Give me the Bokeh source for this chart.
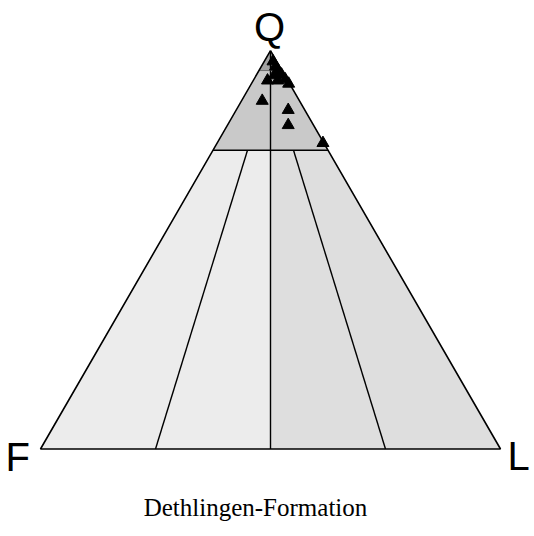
import math
from bokeh.plotting import figure
from bokeh.models import Range1d, Label
from bokeh.embed import file_html
from bokeh.resources import INLINE

# Framework-grain composition (percent) of the Dethlingen-Formation samples
q_pct = [97.3, 96.0, 95.0, 93.8, 94.0, 92.8, 91.7, 92.5, 92.5, 87.4, 85.1, 81.3, 76.8]
f_pct = [0.8, 0.9, 0.8, 2.3, 0.6, 0.4, 0.2, 4.4, 2.2, 8.1, 3.6, 5.5, 0.2]
l_pct = [1.9, 3.1, 4.2, 3.9, 5.4, 6.8, 8.1, 3.1, 5.3, 4.5, 11.3, 13.2, 23.0]

apex_labels = ["Q", "F", "L"]
title = "Dethlingen-Formation"

# Classification field boundaries (Q, F, L)
q_upper = 95
q_lower = 75
divider_left = [(0, 75, 25), (75, 17.5, 7.5)]
divider_right = [(0, 25, 75), (75, 7.5, 17.5)]

SQ3 = math.sqrt(3) / 2


def tern(q, f, l):
    s = q + f + l
    q, l = q / s, l / s
    return l + q / 2, q * SQ3


def poly(points):
    xy = [tern(*p) for p in points]
    return [a for a, _ in xy], [b for _, b in xy]


# pixel layout helpers
SCALE = 460.0
X0, Y0 = 40.0, 448.5


def px(x):
    return (x - X0) / SCALE


def py(y):
    return (Y0 - y) / SCALE


W, H = 534, 536
p = figure(width=W, height=H, output_backend="svg", toolbar_location=None,
           x_range=Range1d(px(0), px(W)), y_range=Range1d(py(H), py(0)),
           min_border=0, background_fill_color="white")
p.axis.visible = False
p.grid.visible = False
p.outline_line_color = None

# Filled fields
fields = [
    ([(100, 0, 0), (q_upper, 100 - q_upper, 0), (q_upper, 0, 100 - q_upper)], "#a3a3a3"),
    ([(q_upper, 100 - q_upper, 0), (q_lower, 100 - q_lower, 0),
      (q_lower, 0, 100 - q_lower), (q_upper, 0, 100 - q_upper)], "#c9c9c9"),
    ([(q_lower, 100 - q_lower, 0), (q_lower, (100 - q_lower) / 2, (100 - q_lower) / 2),
      (0, 50, 50), (0, 100, 0)], "#ececec"),
    ([(q_lower, (100 - q_lower) / 2, (100 - q_lower) / 2), (q_lower, 0, 100 - q_lower),
      (0, 0, 100), (0, 50, 50)], "#dedede"),
]
xs, ys, cols = [], [], []
for pts, c in fields:
    a, b = poly(pts)
    xs.append(a)
    ys.append(b)
    cols.append(c)
p.patches(xs, ys, fill_color=cols, line_color=None)

# Field boundaries
segments = [
    [(q_lower, 100 - q_lower, 0), (q_lower, 0, 100 - q_lower)],
    [(100, 0, 0), (0, 50, 50)],
    divider_left,
    divider_right,
]
for seg in segments:
    a, b = poly(seg)
    p.line(a, b, line_color="black", line_width=1.4)

a, b = poly([(q_upper, 100 - q_upper, 0), (q_upper, 0, 100 - q_upper)])
p.line(a, b, line_color="#555555", line_width=0.8)

# Triangle outline
a, b = poly([(100, 0, 0), (0, 100, 0), (0, 0, 100), (100, 0, 0)])
p.line(a, b, line_color="black", line_width=1.6)

# Samples
pts = [tern(q, f, l) for q, f, l in zip(q_pct, f_pct, l_pct)]
p.scatter([a for a, _ in pts], [b for _, b in pts], marker="triangle",
          size=12, fill_color="black", line_color="black")

# Apex and title labels
p.add_layout(Label(x=px(269), y=py(26), text=apex_labels[0], text_font="Liberation Sans",
                   text_font_size="40px", text_align="center", text_baseline="alphabetic",
                   text_color="black"))
p.add_layout(Label(x=px(5), y=py(456), text=apex_labels[1], text_font="Liberation Sans",
                   text_font_size="40px", text_align="left", text_baseline="alphabetic",
                   text_color="black"))
p.add_layout(Label(x=px(507), y=py(455), text=apex_labels[2], text_font="Liberation Sans",
                   text_font_size="40px", text_align="left", text_baseline="alphabetic",
                   text_color="black"))
p.add_layout(Label(x=px(255), y=py(507), text=title, text_font="Liberation Serif",
                   text_font_size="25px", text_align="center", text_baseline="alphabetic",
                   text_color="black"))

open("out.html", "w").write(file_html(p, INLINE))
